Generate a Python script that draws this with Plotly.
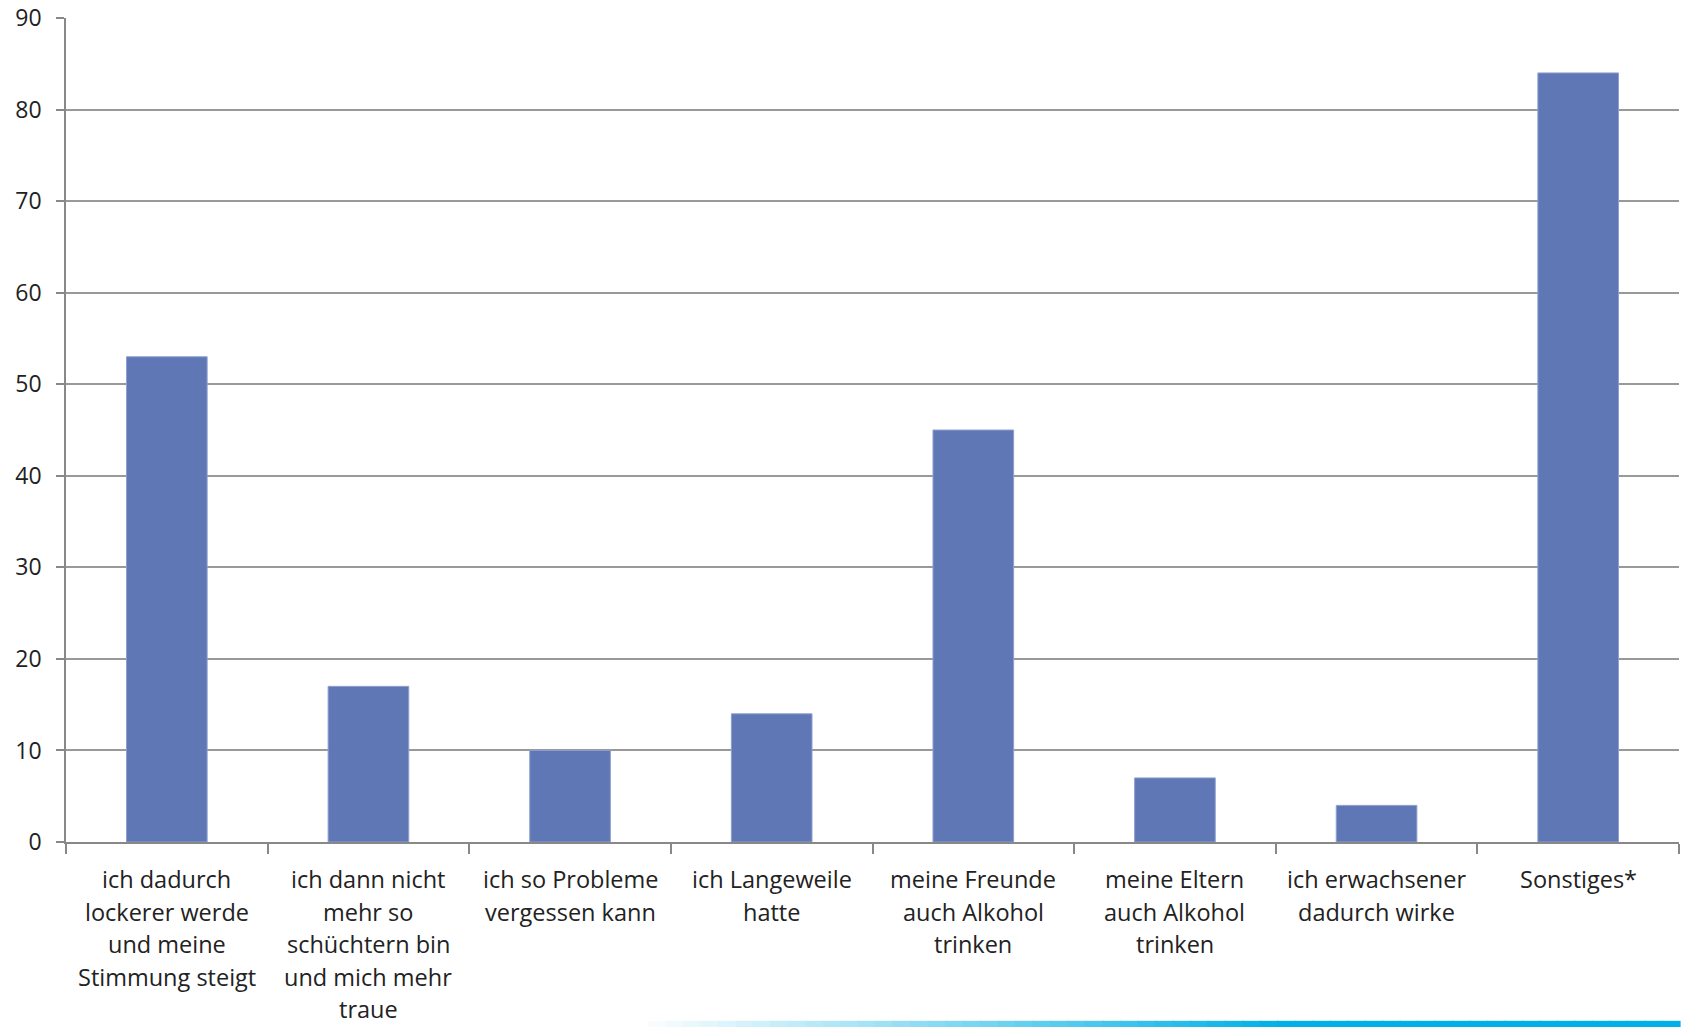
import plotly.graph_objects as go

categories = [
    "ich dadurch<br>lockerer werde<br>und meine<br>Stimmung steigt",
    "ich dann nicht<br>mehr so<br>schüchtern bin<br>und mich mehr<br>traue",
    "ich so Probleme<br>vergessen kann",
    "ich Langeweile<br>hatte",
    "meine Freunde<br>auch Alkohol<br>trinken",
    "meine Eltern<br>auch Alkohol<br>trinken",
    "ich erwachsener<br>dadurch wirke",
    "Sonstiges*",
]
values = [53, 17, 10, 14, 45, 7, 4, 84]
y_ticks = [0, 10, 20, 30, 40, 50, 60, 70, 80, 90]

fig = go.Figure()
fig.add_trace(go.Bar(
    x=categories,
    y=values,
    marker=dict(color="#6077b5", line=dict(color="#8fa0d0", width=1)),
    width=0.40,
))

# category labels drawn line by line for wider line spacing
for cat in categories:
    for j, line in enumerate(cat.split("<br>")):
        fig.add_annotation(
            x=cat, xref="x", y=0, yref="y",
            text=line, showarrow=False,
            yanchor="middle", xanchor="center",
            yshift=-(37 + 32.5 * j),
            borderpad=0,
            font=dict(family="Open Sans", size=23.5, color="#222222"),
        )

# decorative gradient strip at bottom
n = 60
x0, x1 = 0.35, 1.0
for i in range(n):
    t = min(1, (i / (n - 1)) * 1.6)
    r = int(255 + (0 - 255) * t)
    g = int(255 + (176 - 255) * t)
    b = int(255 + (230 - 255) * t)
    fig.add_shape(type="rect", xref="paper", yref="paper",
                  x0=x0 + (x1 - x0) * i / n, x1=x0 + (x1 - x0) * (i + 1) / n + 0.001,
                  y0=-0.225, y1=-0.217, line=dict(width=0),
                  fillcolor=f"rgb({r},{g},{b})", layer="below")

fig.update_layout(
    width=1681, height=1027,
    margin=dict(l=66, r=2, t=18, b=185),
    paper_bgcolor="white", plot_bgcolor="white",
    showlegend=False,
    font=dict(family="Open Sans", size=22, color="#222222"),
    xaxis=dict(
        type="category",
        showticklabels=False,
        showline=True, linecolor="#888888", linewidth=1.5,
        ticks="outside", ticklen=10, tickcolor="#888888", tickwidth=1.5,
        tickson="boundaries",
        showgrid=False, zeroline=False,
    ),
    yaxis=dict(
        range=[0, 90],
        tickmode="array", tickvals=y_ticks,
        showline=True, linecolor="#888888", linewidth=1.5,
        ticks="outside", ticklen=8, tickcolor="#888888", tickwidth=1.5,
        showgrid=True, gridcolor="#999999", gridwidth=1.5,
        zeroline=False,
        ticklabelstandoff=10,
        tickfont=dict(size=23),
    ),
)

fig.write_html("out.html")
